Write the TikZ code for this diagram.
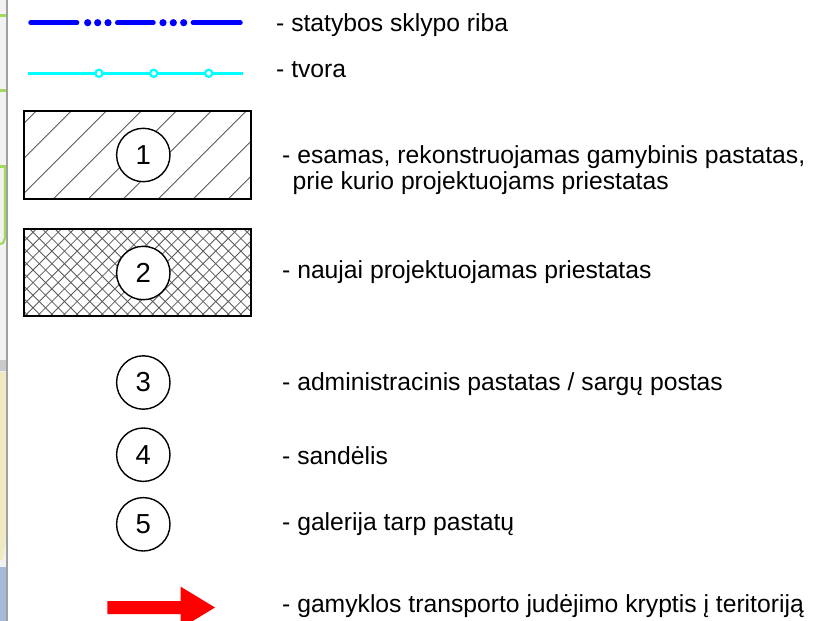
\documentclass[tikz,border=0pt]{standalone}
\usepackage{fontspec}
\setmainfont{Liberation Sans}
\definecolor{plotblue}{HTML}{0000FF}
\definecolor{fencecyan}{HTML}{00FFFF}
\definecolor{hatchgray}{HTML}{5A5A5A}
\definecolor{stripgray}{HTML}{F2F2F2}
\definecolor{stripline}{HTML}{A0A0A0}
\definecolor{mapgreen}{HTML}{A3D95C}
\definecolor{mapyellow}{HTML}{EDEAC4}
\definecolor{mapblue}{HTML}{A6BBD9}
\definecolor{mapshade}{HTML}{C9C9C9}
\definecolor{arrowred}{HTML}{FF0000}
\begin{document}
\begin{tikzpicture}[x=1pt,y=-1pt,
  lbl/.style={anchor=base west,inner sep=0pt,font=\fontsize{24.7}{28}\selectfont},
  numcirc/.style={circle,draw=black,line width=1.4pt,fill=white,minimum size=53.4pt,inner sep=0pt,font=\fontsize{27.5}{28}\selectfont},
  boxframe/.style={draw=black,line width=2pt},
  hatchline/.style={draw=hatchgray,line width=0.9pt},
  crossline/.style={draw=hatchgray,line width=0.8pt},
]
\clip (0,0) rectangle (814,621);
\fill[white] (0,0) rectangle (814,621);
% left map strip
\fill[stripgray] (0,0) rectangle (7,621);
\fill[mapgreen] (0,14) rectangle (6,17);
\fill[mapgreen] (0,89) rectangle (6,92);
\fill[mapgreen] (0,165) rectangle (6,168);
\draw[mapgreen,line width=2.2pt] (5,166) -- (5,238) -- (3,243) -- (0,244);
\fill[mapshade] (0,360) rectangle (7,371);
\fill[mapyellow] (0,372) -- (7,372) -- (7,530) -- (3,560) -- (0,560) -- cycle;
\fill[mapblue] (0,567) rectangle (7,621);
\draw[stripline,line width=1.3pt] (7,0) -- (7,621);
% line 1: plot boundary
\coordinate (b1) at (30.6,22.7);
\coordinate (b2) at (77,22.7);
\coordinate (b3) at (117.3,22.7);
\coordinate (b4) at (153.4,22.7);
\coordinate (b5) at (193,22.7);
\coordinate (b6) at (240.4,22.7);
\draw[plotblue,line width=4.7pt,line cap=round] (b1) -- (b2) (b3) -- (b4) (b5) -- (b6);
\foreach \x in {87.7,97.7,108,163,173.3,183.7}
  \fill[plotblue] (\x,22.7) circle[radius=3.6pt];
% line 2: fence
\coordinate (f1) at (28.3,73.3);
\coordinate (f2) at (242.7,73.3);
\draw[fencecyan,line width=2.7pt] (f1) -- (f2);
\foreach \x in {99,153.7,208.7}
  \draw[fencecyan,line width=2.2pt,fill=white] (\x,73.3) circle[radius=3.6pt];
% box 1: hatched
\fill[white] (24,110.5) rectangle (250.5,198.5);
\begin{scope}
  \clip (24,110.5) rectangle (250.5,198.5);
  \foreach \k in {-1,...,9}
    \draw[hatchline] ({147.2+35*\k-200},200) -- ({147.2+35*\k},0);
\end{scope}
\draw[boxframe] (24,110.5) rectangle (250.5,198.5);
% box 2: cross-hatched
\fill[white] (24,229.3) rectangle (250.5,316);
\begin{scope}
  \clip (24,229.3) rectangle (250.5,316);
  \foreach \k in {0,...,27}
    \draw[crossline] ({240+12.6*\k-320},320) -- ({240+12.6*\k-220},220);
  \foreach \k in {0,...,26}
    \draw[crossline] ({-300+12.6*\k+220},220) -- ({-300+12.6*\k+320},320);
\end{scope}
\draw[boxframe] (24,229.3) rectangle (250.5,316);
% numbered circles
\node[numcirc] (c1) at (143.3,155) {1};
\node[numcirc] (c2) at (143.3,273) {2};
\node[numcirc] (c3) at (143.3,382.5) {3};
\node[numcirc] (c4) at (143.3,454.7) {4};
\node[numcirc] (c5) at (143.3,524.3) {5};
% red arrow
\fill[arrowred] (107.3,601) -- (180.7,601) -- (180.7,586.7) -- (215,607.5)
  -- (180.7,628.3) -- (180.7,614) -- (107.3,614) -- cycle;
% labels
\node[lbl] (t1) at (276,31) {- statybos sklypo riba};
\node[lbl] (t2) at (276,77) {- tvora};
\node[lbl] (t3a) at (282,163) {- esamas, rekonstruojamas gamybinis pastatas,};
\node[lbl] (t3b) at (292.4,189) {prie kurio projektuojams priestatas};
\node[lbl] (t4) at (282,278) {- naujai projektuojamas priestatas};
\node[lbl] (t5) at (282,390) {- administracinis pastatas / sargų postas};
\node[lbl] (t6) at (282,464) {- sandėlis};
\node[lbl] (t7) at (282,530) {- galerija tarp pastatų};
\node[lbl] (t8) at (282,612) {- gamyklos transporto judėjimo kryptis į teritoriją};
\end{tikzpicture}
\end{document}
